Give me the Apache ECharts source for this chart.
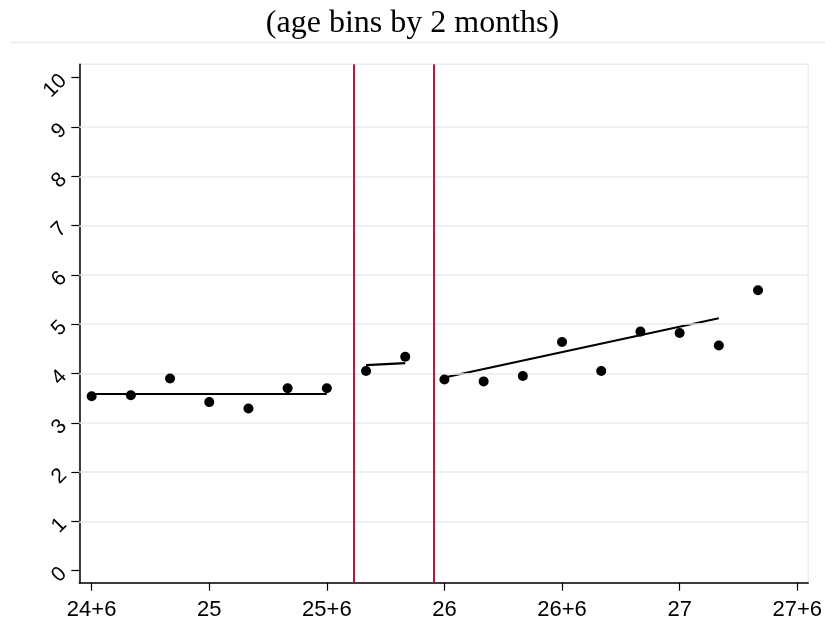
<!DOCTYPE html>
<html>
<head>
<meta charset="utf-8">
<script src="https://cdn.jsdelivr.net/npm/echarts@6/dist/echarts.min.js"></script>
<style>
  html, body { margin: 0; padding: 0; background: #ffffff; }
  #chart { width: 825px; height: 623px; }
</style>
</head>
<body>
<div id="chart"></div>
<script>
// Age in months (bin start), bins of 2 months
const binMonths = [294, 296, 298, 300, 302, 304, 306, 308, 310, 312, 314, 316, 318, 320, 322, 324, 326, 328];
// Mean outcome per bin
const binMeans = [3.54, 3.56, 3.90, 3.42, 3.29, 3.70, 3.70, 4.05, 4.34, 3.88, 3.84, 3.95, 4.64, 4.05, 4.85, 4.82, 4.57, 5.69];

// Linear fits within each segment (endpoints)
const fitLeftMonths = [294, 306];
const fitLeftValues = [3.585, 3.585];
const fitMidMonths = [308, 310];
const fitMidValues = [4.17, 4.21];
const fitRightMonths = [312, 326];
const fitRightValues = [3.92, 5.12];

// Cutoffs (vertical reference lines), in months
const cutoffMonths = [307.37, 311.47];

// Axis ticks
const xTickMonths = [294, 300, 306, 312, 318, 324, 330];
const xTickLabels = ['24+6', '25', '25+6', '26', '26+6', '27', '27+6'];
const yTickValues = [0, 1, 2, 3, 4, 5, 6, 7, 8, 9, 10];
const yGridValues = [1, 2, 3, 4, 5, 6, 7, 8, 9];

const pairs = (xs, ys) => xs.map((x, i) => [x, ys[i]]);

const labelFont = 'Liberation Sans, Arial, sans-serif';
const fitStyle = { color: '#000000', width: 2.2 };

const chart = echarts.init(document.getElementById('chart'), null, { renderer: 'canvas' });

chart.setOption({
  animation: false,
  backgroundColor: '#ffffff',
  graphic: [
    {
      type: 'text',
      left: 'center',
      top: 8,
      style: {
        text: '(age bins by 2 months)',
        font: '32px "Liberation Serif", "Times New Roman", serif',
        fill: '#000000'
      }
    },
    {
      type: 'line',
      shape: { x1: 10, y1: 42.5, x2: 825, y2: 42.5 },
      style: { stroke: '#e6eef0', lineWidth: 1.5 }
    }
  ],
  grid: {
    left: 79.3,
    right: 11.3,
    top: 64.3,
    bottom: 40.3,
    show: true,
    borderColor: '#e6eef0',
    borderWidth: 1.5,
    backgroundColor: '#ffffff'
  },
  xAxis: {
    type: 'value',
    min: 293.37,
    max: 330.56,
    splitLine: { show: false },
    axisLine: { show: true, onZero: false, lineStyle: { color: '#000000', width: 1.5 } },
    axisTick: {
      show: true,
      length: 8,
      customValues: xTickMonths,
      lineStyle: { color: '#000000', width: 1.2 }
    },
    axisLabel: {
      show: true,
      customValues: xTickMonths,
      margin: 16,
      color: '#000000',
      fontSize: 22,
      fontFamily: labelFont,
      formatter: (v) => {
        const i = xTickMonths.indexOf(Math.round(v));
        return i >= 0 ? xTickLabels[i] : '';
      }
    }
  },
  yAxis: {
    type: 'value',
    min: -0.243,
    max: 10.272,
    splitLine: { show: false },
    axisLine: { show: true, onZero: false, lineStyle: { color: '#000000', width: 1.5 } },
    axisTick: {
      show: true,
      length: 8,
      customValues: yTickValues,
      lineStyle: { color: '#000000', width: 1.2 }
    },
    axisLabel: {
      show: true,
      customValues: yTickValues,
      rotate: 45,
      margin: 16,
      color: '#000000',
      fontSize: 21,
      fontFamily: labelFont
    }
  },
  series: [
    {
      name: 'grid',
      type: 'line',
      data: [],
      silent: true,
      markLine: {
        silent: true,
        symbol: ['none', 'none'],
        label: { show: false },
        lineStyle: { color: '#e6eef0', width: 1.5, type: 'solid' },
        data: yGridValues.map((v) => ({ yAxis: v }))
      }
    },
    {
      name: 'cutoffs',
      type: 'line',
      data: [],
      silent: true,
      markLine: {
        silent: true,
        symbol: ['none', 'none'],
        label: { show: false },
        lineStyle: { color: '#c8103a', width: 2, type: 'solid' },
        data: cutoffMonths.map((m) => ({ xAxis: m }))
      }
    },
    {
      name: 'fit left',
      type: 'line',
      data: pairs(fitLeftMonths, fitLeftValues),
      showSymbol: false,
      lineStyle: fitStyle
    },
    {
      name: 'fit mid',
      type: 'line',
      data: pairs(fitMidMonths, fitMidValues),
      showSymbol: false,
      lineStyle: fitStyle
    },
    {
      name: 'fit right',
      type: 'line',
      data: pairs(fitRightMonths, fitRightValues),
      showSymbol: false,
      lineStyle: fitStyle
    },
    {
      name: 'bin means',
      type: 'scatter',
      data: pairs(binMonths, binMeans),
      symbol: 'circle',
      symbolSize: 10,
      itemStyle: { color: '#000000', opacity: 1 },
      z: 5
    }
  ]
});
</script>
</body>
</html>
